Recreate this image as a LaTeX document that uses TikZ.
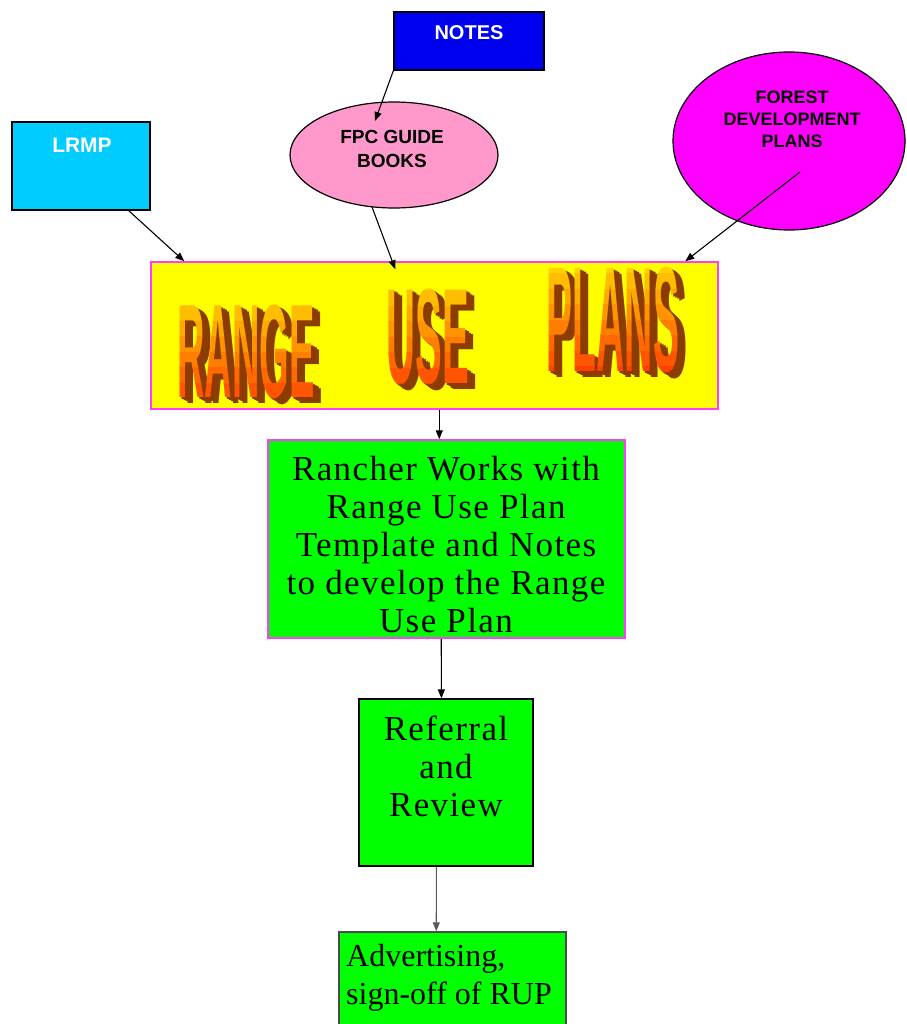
\documentclass[tikz,border=0pt]{standalone}
\usepackage{fontspec}
\setmainfont{Liberation Serif}
\setsansfont{Liberation Sans}
\newfontfamily\serifspaced[LetterSpace=4]{Liberation Serif}
\usetikzlibrary{arrows.meta,calc,shapes.geometric}
\definecolor{notesblue}{RGB}{0,0,240}
\definecolor{lrmpcyan}{RGB}{0,204,255}
\definecolor{fpcpink}{RGB}{255,153,204}
\definecolor{fdpmag}{RGB}{255,0,255}
\definecolor{bxmag}{RGB}{255,60,255}
\definecolor{rupyellow}{RGB}{255,255,0}
\definecolor{boxgreen}{RGB}{0,255,0}
\definecolor{rtop}{RGB}{255,210,0}
\definecolor{rbot}{RGB}{255,60,0}
\definecolor{rupbrown}{RGB}{140,60,0}
\newcommand\wafont{\sffamily\bfseries\fontsize{100}{100}\selectfont}
% #1 x, #2 y, #3 xscale, #4 yscale, #5 text, #6 name prefix
\newcommand\rupword[6]{%
  \foreach \k in {8,6,4,2}{%
    \node[inner sep=0pt, text=rupbrown, font=\wafont] (#6sh\k) at (#1+\k, #2+0.7*\k) {\scalebox{#3}[#4]{#5}};
  }
  \foreach \i in {0,...,7}{%
    \pgfmathtruncatemacro\pct{\i*14}
    \begin{scope}
      \clip (#1-120, #2-62+\i*15.5) rectangle (#1+120, #2-46.5+\i*15.5);
      \node[inner sep=0pt, text=rbot!\pct!rtop, font=\wafont] (#6fr\i) at (#1,#2) {\scalebox{#3}[#4]{#5}};
    \end{scope}
  }
}
\begin{document}
\begin{tikzpicture}[x=1pt,y=-1pt,
  conn/.style={line width=1.1pt, -{Triangle[length=9pt,width=7pt]}},
  box/.style={draw=black, line width=1.2pt, inner sep=0pt},
  magbox/.style={draw=bxmag, line width=1.5pt, inner sep=0pt},
  sanslbl/.style={font=\sffamily\bfseries, align=center, inner sep=0pt},
  seriflbl/.style={align=center, inner sep=0pt, text=black}]
\fill[white] (0,0) rectangle (906,1024);
\useasboundingbox (0,0) rectangle (906,1024);

% shapes
\node[box, fill=notesblue, minimum width=150pt, minimum height=58pt] (notes) at (469,41) {};
\node[box, fill=lrmpcyan, minimum width=138pt, minimum height=88pt] (lrmp) at (81,166) {};
\node[draw=black, line width=1.2pt, fill=fpcpink, ellipse, minimum width=208pt, minimum height=106pt, inner sep=0pt] (fpc) at (394,155) {};
\node[draw=black, line width=1.2pt, fill=fdpmag, ellipse, minimum width=232pt, minimum height=178pt, inner sep=0pt] (fdp) at (789,141) {};
\node[magbox, fill=rupyellow, minimum width=567pt, minimum height=147pt] (rup) at (434.5,335.5) {};
\node[magbox, fill=boxgreen, minimum width=357pt, minimum height=198pt] (rancher) at (446.5,539) {};
\node[box, fill=boxgreen, minimum width=174pt, minimum height=167pt] (referral) at (446,782.5) {};
\node[draw=black!70, line width=1.5pt, fill=boxgreen, minimum width=227pt, minimum height=100pt, inner sep=0pt] (advert) at (452.5,982) {};

% labels
\node[sanslbl, text=white, font=\sffamily\bfseries\fontsize{20}{24}\selectfont] (notestxt) at (469,33) {NOTES};
\node[sanslbl, text=white, font=\sffamily\bfseries\fontsize{21}{24}\selectfont] (lrmptxt) at (82,145) {LRMP};
\node[sanslbl, text=black, font=\sffamily\bfseries\fontsize{19}{24}\selectfont] (fpctxt) at (392,149) {FPC GUIDE\\BOOKS};
\node[sanslbl, text=black, font=\sffamily\bfseries\fontsize{18}{22}\selectfont] (fdptxt) at (792,119) {FOREST\\DEVELOPMENT\\PLANS};
\node[seriflbl, font=\serifspaced\fontsize{35}{38}\selectfont] (ranchertxt) at (446,545) {Rancher Works with\\Range Use Plan\\Template and Notes\\to develop the Range\\Use Plan};
\node[seriflbl, font=\serifspaced\fontsize{35}{38}\selectfont] (referraltxt) at (446,766) {Referral\\and\\Review};
\node[seriflbl, align=left, anchor=west, font=\fontsize{32}{38}\selectfont] (adverttxt) at (346,978) {Advertising,\\sign-off of RUP};

% word art
\rupword{246}{352}{0.38}{1.33}{RANGE}{wa}
\rupword{428}{337}{0.40}{1.36}{USE}{wb}
\rupword{613}{320}{0.39}{1.5}{PLANS}{wc}

% connector end points
\coordinate (fpcin) at (375,121);
\coordinate (lrmpout) at (128,210);
\coordinate (fpcout) at (372,207);
\coordinate (fdpout) at (800,172);
\coordinate (rupinA) at ($(rup.north west)+(34,0)$);
\coordinate (rupinB) at ($(rup.north west)+(245,8)$);
\coordinate (rupinC) at ($(rup.north west)+(535,0)$);
\coordinate (rupout) at ($(rup.south west)+(289,0)$);
\coordinate (rancherin) at ($(rancher.north west)+(172,0)$);
\coordinate (rancherout) at ($(rancher.south west)+(174,0)$);
\coordinate (referralin) at ($(referral.north west)+(83,0)$);
\coordinate (referralout) at ($(referral.south west)+(78,0)$);
\coordinate (advertin) at ($(advert.north west)+(98,0)$);

% connectors
\draw[conn] (notes.south west) -- (fpcin);
\draw[conn] (lrmpout) -- (rupinA);
\draw[conn] (fpcout) -- (rupinB);
\draw[conn] (fdpout) -- (rupinC);
\draw[conn] (rupout) -- (rancherin);
\draw[conn] (rancherout) -- (referralin);
\draw[conn, draw=black!65, fill=black!65] (referralout) -- (advertin);
\end{tikzpicture}
\end{document}
